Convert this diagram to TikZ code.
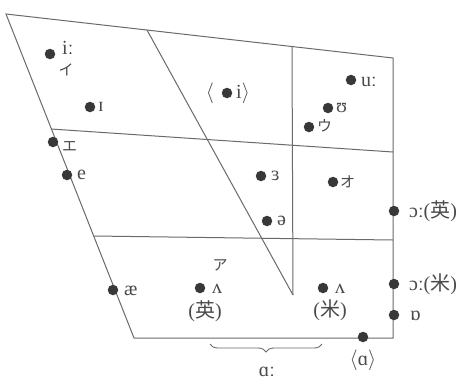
\documentclass[tikz,border=0pt]{standalone}
\usepackage{fontspec}
\setmainfont{Liberation Serif}
\newfontfamily\jp{Noto Sans CJK JP}
\usetikzlibrary{decorations.pathreplacing}
\definecolor{ink}{HTML}{4A4A4A}
\definecolor{edge}{HTML}{6A6A6A}
\definecolor{dotc}{HTML}{383838}
\begin{document}
\begin{tikzpicture}[x=1pt,y=-1pt,
  frame/.style={draw=edge, line width=1pt},
  vdot/.style={circle, fill=dotc, inner sep=0pt, minimum size=10.5pt},
  lbl/.style={text=ink, font=\fontsize{20}{22}\selectfont, inner sep=0pt, anchor=west},
  jlbl/.style={text=ink, font=\jp\fontsize{15}{17}\selectfont, inner sep=0pt},
  plbl/.style={text=ink, font=\fontsize{20}{22}\selectfont, inner sep=0pt}]
\useasboundingbox[fill=white] (0,0) rectangle (464,384);

% outline of the vowel quadrilateral
\coordinate (TL) at (6,14);
\coordinate (TR) at (393,58);
\coordinate (BR) at (393,338);
\coordinate (BL) at (134,338);
\draw[frame] (TL) -- (TR) -- (BR) -- (BL) -- cycle;

% inner division lines
\coordinate (H1a) at (51,129);  \coordinate (H1b) at (393,152);
\coordinate (H2a) at (94,236);  \coordinate (H2b) at (393,240);
\coordinate (Dg) at (147,30);   \coordinate (Vt) at (292,46.5);
\coordinate (M) at (293,295);
\draw[frame] (H1a) -- (H1b);
\draw[frame] (H2a) -- (H2b);
\draw[frame] (Dg) -- (M);
\draw[frame] (Vt) -- (M);

% vowel points
\node[vdot] (ii) at (50,54) {};
\node[vdot] (ih) at (90,107) {};
\node[vdot] (ic) at (227,93) {};
\node[vdot] (uu) at (351,80) {};
\node[vdot] (uh) at (328,108) {};
\node[vdot] (uj) at (309,127) {};
\node[vdot] (ej) at (53,142) {};
\node[vdot] (e)  at (67,175) {};
\node[vdot] (er) at (261,176) {};
\node[vdot] (sw) at (267,221) {};
\node[vdot] (oj) at (333,182) {};
\node[vdot] (ob) at (394,211) {};
\node[vdot] (ae) at (113,290) {};
\node[vdot] (vb) at (200,288) {};
\node[vdot] (va) at (323,288) {};
\node[vdot] (oa) at (394,284) {};
\node[vdot] (ro) at (394,315) {};
\node[vdot] (aa) at (363,337) {};

% symbols
\node[lbl] (tii) at (62,48) {iː};
\node[jlbl] (tij) at (66,70) {イ};
\node[lbl] (tih) at (98,107) {ɪ};
\node[plbl] (tic1) at (210,93) {$\langle$};
\node[lbl] (tic2) at (236,93) {i$\rangle$};
\node[lbl] (tuu) at (361,82) {uː};
\node[lbl] (tuh) at (336,108) {ʊ};
\node[jlbl, anchor=west] (tuj) at (317,126) {ウ};
\node[jlbl, anchor=west] (tej) at (62,146) {エ};
\node[lbl] (te) at (77,175) {e};
\node[lbl] (ter) at (271,176) {ɜ};
\node[lbl] (tsw) at (277,221) {ə};
\node[jlbl, anchor=west] (toj) at (340,182) {オ};
\node[lbl] (tob) at (409,211) {ɔː({\jp 英})};
\node[lbl] (tae) at (124,291) {æ};
\node[jlbl] (taj) at (220,265) {ア};
\node[lbl] (tvb) at (212,289) {ʌ};
\node[plbl] (tvbe) at (205,311) {({\jp 英})};
\node[lbl] (tva) at (335,289) {ʌ};
\node[plbl] (tvaa) at (330,310) {({\jp 米})};
\node[lbl] (toa) at (409,284) {ɔː({\jp 米})};
\node[lbl] (tro) at (410,316) {ɒ};
\node[plbl] (taa) at (363,360) {$\langle$ɑ$\rangle$};

% brace for the long a
\coordinate (Bl) at (210,344);
\coordinate (Br) at (322,344);
\draw[draw=edge, line width=0.9pt, decorate, decoration={brace, mirror, amplitude=8pt}] (Bl) -- (Br);
\node[plbl] (tal) at (267,372) {ɑː};
\end{tikzpicture}
\end{document}
